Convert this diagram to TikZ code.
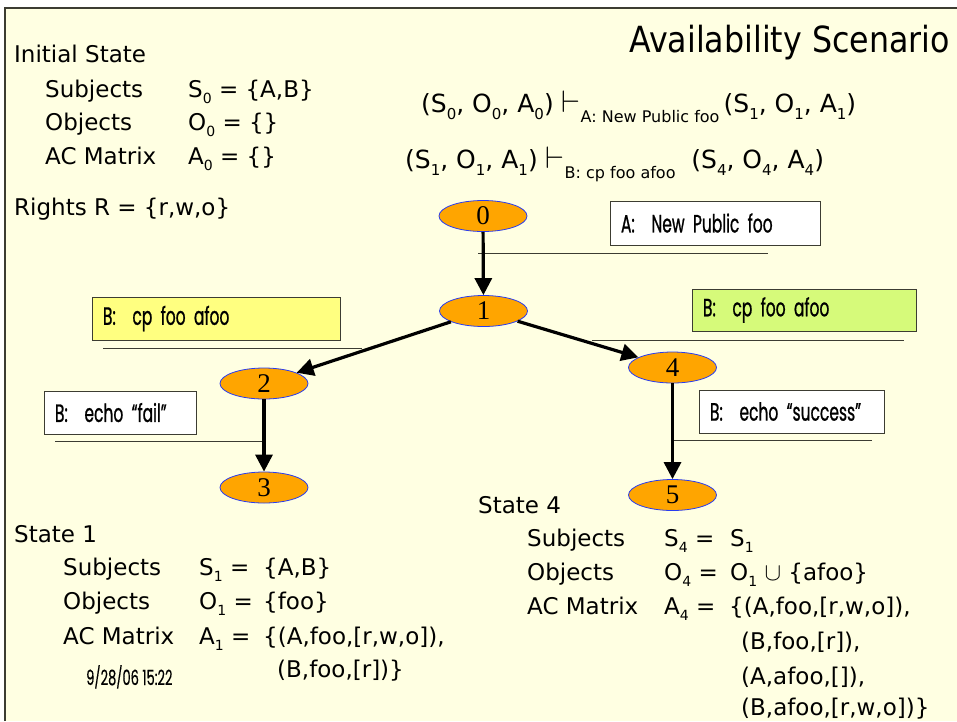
\documentclass[tikz,border=0pt]{standalone}
\usepackage{fontspec}
\usepackage{graphicx}
\setmainfont{DejaVu Sans}
\newfontfamily\condfont[FakeStretch=0.62,FakeBold=0.8]{Poppins}
\newfontfamily\datefont[FakeStretch=0.62,FakeBold=0.3]{Poppins}
\newfontfamily\titlefont[FakeStretch=0.88]{DejaVu Sans}
\newfontfamily\numfont{Liberation Serif}
\usetikzlibrary{shapes.geometric,arrows.meta}
\definecolor{bgyellow}{RGB}{255,255,226}
\definecolor{nodeorange}{RGB}{255,165,0}
\definecolor{nodeblue}{RGB}{40,60,240}
\definecolor{boxyellow}{RGB}{255,255,128}
\definecolor{boxgreen}{RGB}{214,250,122}
\definecolor{rulegray}{RGB}{60,60,50}
\newcommand\dn[1]{\raisebox{-0.28em}{\fontsize{14}{14}\selectfont #1}}
\newcommand\dnb[1]{\raisebox{-0.28em}{\fontsize{15}{15}\selectfont #1}}
\newcommand\dnf[1]{\raisebox{-0.4em}{\fontsize{16}{16}\selectfont #1}}
\newcommand\turnst{\scalebox{1.25}{$\vdash$}}
\begin{document}
\begin{tikzpicture}[x=1pt,y=-1pt,
  txt/.style={anchor=base west, inner sep=0pt, font=\fontsize{23}{26}\selectfont},
  ftxt/.style={anchor=base west, inner sep=0pt, font=\fontsize{25}{28}\selectfont},
  statenode/.style={ellipse, draw=nodeblue, line width=0.8pt, fill=nodeorange,
    minimum width=88pt, minimum height=31pt, inner sep=0pt,
    font=\numfont\fontsize{27}{27}\selectfont},
  cmdbox/.style={draw=rulegray, line width=1pt, fill=white, inner xsep=11pt,
    align=left, font=\condfont\fontsize{25}{27}\selectfont},
  underline/.style={draw=rulegray, line width=0.9pt},
  flow/.style={line width=3.2pt, -{Triangle[length=17pt,width=17pt]}}
]
\useasboundingbox (0,0) rectangle (957,721);
\fill[white] (0,0) rectangle (957,721);
\fill[bgyellow] (5,8) rectangle (957,721);
\draw[rulegray, line width=1.2pt] (5,721) -- (5,8) -- (957,8);

% title
\node[anchor=base east, inner sep=0pt, font=\titlefont\fontsize{36}{38}\selectfont] (title) at (950,52) {Availability Scenario};

% initial state
\node[txt] (init) at (14,62) {Initial State};
\node[txt] (subj0) at (45,97) {Subjects};
\node[txt] (s0) at (188,97) {S\dn{0} = \{A,B\}};
\node[txt] (obj0) at (45,130) {Objects};
\node[txt] (o0) at (188,130) {O\dn{0} = \{\}};
\node[txt] (ac0) at (45,164) {AC Matrix};
\node[txt] (a0) at (188,164) {A\dn{0} = \{\}};
\node[txt] (rights) at (14,215) {Rights R = \{r,w,o\}};

% formulas
\node[ftxt] (f1) at (421,112) {(S\dnb{0}, O\dnb{0}, A\dnb{0})\ \turnst\dnf{A: New Public foo}\,(S\dnb{1}, O\dnb{1}, A\dnb{1})};
\node[ftxt] (f2) at (405,168) {(S\dnb{1}, O\dnb{1}, A\dnb{1})\ \turnst\dnf{B: cp foo afoo}\ \ (S\dnb{4}, O\dnb{4}, A\dnb{4})};

% underlines (behind)
\coordinate (ua1) at (478,253); \coordinate (ua2) at (768,253);
\coordinate (uy1) at (103,348); \coordinate (uy2) at (362,348);
\coordinate (ug1) at (592,340); \coordinate (ug2) at (904,340);
\coordinate (uf1) at (55,441);  \coordinate (uf2) at (263,441);
\coordinate (us1) at (673,440); \coordinate (us2) at (872,440);
\draw[underline] (ua1) -- (ua2);
\draw[underline] (uy1) -- (uy2);
\draw[underline] (ug1) -- (ug2);
\draw[underline] (uf1) -- (uf2);
\draw[underline] (us1) -- (us2);

% command boxes
\node[cmdbox, text width=188pt, minimum height=44pt] (cmdA) at (715,223) {A:\ \ New Public foo};
\node[cmdbox, fill=boxyellow, text width=226pt, minimum height=43pt] (cmdY) at (216,318.5) {B:\ \ cp foo afoo};
\node[cmdbox, fill=boxgreen, text width=202pt, minimum height=42pt] (cmdG) at (804,310) {B:\ \ cp foo afoo};
\node[cmdbox, text width=130pt, minimum height=43pt] (cmdF) at (120,412.5) {B:\ \ echo “fail”};
\node[cmdbox, text width=163pt, minimum height=43pt] (cmdS) at (791.5,411.5) {B:\ \ echo “success”};

% state nodes
\node[statenode] (n0) at (483,216) {0};
\node[statenode] (n1) at (483.5,311) {1};
\node[statenode] (n2) at (264,383.5) {2};
\node[statenode] (n3) at (264,487.5) {3};
\node[statenode] (n4) at (672.5,367.5) {4};
\node[statenode] (n5) at (672.5,495) {5};

\draw[flow] (n0) -- (n1);
\draw[flow] (n1) -- (n2);
\draw[flow] (n1) -- (n4);
\draw[flow] (n2) -- (n3);
\draw[flow] (n4) -- (n5);

% state 1
\node[txt] (st1) at (14,542) {State 1};
\node[txt] (subj1) at (63,575) {Subjects};
\node[txt] (s1) at (199,575) {S\dn{1} =};
\node[txt] (s1v) at (263,575) {\{A,B\}};
\node[txt] (obj1) at (63,609) {Objects};
\node[txt] (o1) at (199,609) {O\dn{1} =};
\node[txt] (o1v) at (263,609) {\{foo\}};
\node[txt] (ac1) at (63,644) {AC Matrix};
\node[txt] (a1) at (199,644) {A\dn{1} =};
\node[txt] (a1v) at (263,644) {\{(A,foo,[r,w,o]),};
\node[txt] (a1w) at (277,677) {(B,foo,[r])\}};
\node[anchor=base west, inner sep=0pt, font=\datefont\fontsize{21}{23}\selectfont] (date) at (86,685) {9/28/06 15:22};

% state 4
\node[txt] (st4) at (478,513) {State 4};
\node[txt] (subj4) at (527,546) {Subjects};
\node[txt] (s4) at (664,546) {S\dn{4} =};
\node[txt] (s4v) at (730,546) {S\dn{1}};
\node[txt] (obj4) at (527,580) {Objects};
\node[txt] (o4) at (664,580) {O\dn{4} =};
\node[txt] (o4v) at (730,580) {O\dn{1} $\cup$ \{afoo\}};
\node[txt] (ac4) at (527,614) {AC Matrix};
\node[txt] (a4) at (664,614) {A\dn{4} =};
\node[txt] (a4v) at (729,614) {\{(A,foo,[r,w,o]),};
\node[txt] (a4w) at (741,649) {(B,foo,[r]),};
\node[txt] (a4x) at (741,684) {(A,afoo,[]),};
\node[txt] (a4y) at (741,715) {(B,afoo,[r,w,o])\}};
\end{tikzpicture}
\end{document}
